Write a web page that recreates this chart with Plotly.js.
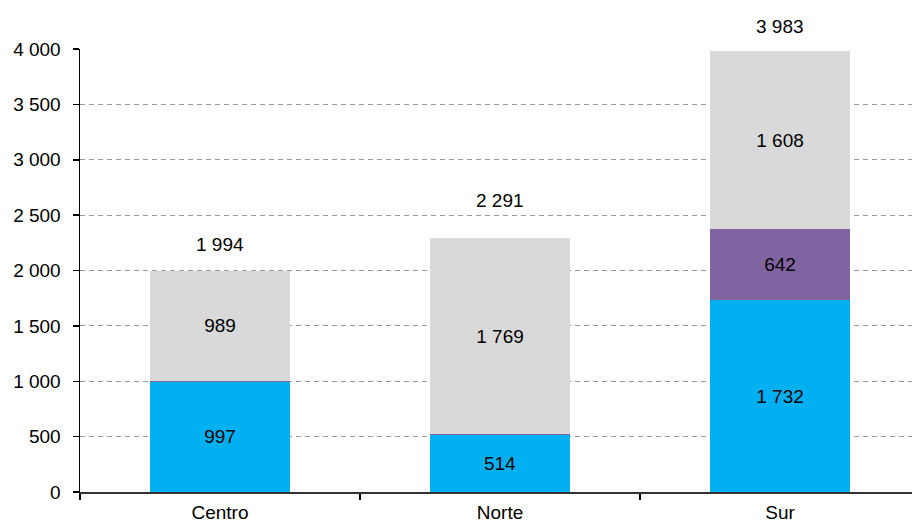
<!DOCTYPE html>
<html>
<head>
<meta charset="utf-8">
<script src="https://cdn.plot.ly/plotly-3.0.1.min.js"></script>
<style>html,body{margin:0;padding:0;background:#fff;}#chart{width:912px;height:524px;}</style>
</head>
<body>
<div id="chart"></div>
<script>
var categories = ["Centro", "Norte", "Sur"];
var blueValues = [997, 514, 1732];
var purpleValues = [8, 8, 642];
var grayValues = [989, 1769, 1608];
var totals = [1994, 2291, 3983];
var totalLabelShift = [27, 38, 24];
var labelMin = 100;

function fmt(v) {
  return String(v).replace(/\B(?=(\d{3})+(?!\d))/g, " ");
}
function labels(arr) {
  return arr.map(function (v) { return v >= labelMin ? fmt(v) : ""; });
}

var FONT = "Liberation Sans, Arial, sans-serif";

function seriesTrace(values, color) {
  return {
    type: "bar",
    x: categories,
    y: values,
    width: 0.5,
    marker: { color: color, line: { width: 0 } },
    text: labels(values),
    texttemplate: "%{text}",
    textposition: "inside",
    insidetextanchor: "middle",
    constraintext: "none",
    textfont: { family: FONT, size: 19, color: "#000" },
    hoverinfo: "skip",
    showlegend: false
  };
}

var data = [
  seriesTrace(blueValues, "#00B0F0"),
  seriesTrace(purpleValues, "#8064A2"),
  seriesTrace(grayValues, "#D9D9D9")
];

var annotations = categories.map(function (c, i) {
  return {
    x: c, y: totals[i], xref: "x", yref: "y",
    text: fmt(totals[i]), showarrow: false,
    yshift: totalLabelShift[i],
    font: { family: FONT, size: 19, color: "#000" }
  };
});

var layout = {
  width: 912, height: 524,
  margin: { l: 80, r: 0, t: 49, b: 32, pad: 0 },
  barmode: "stack",
  separators: ", ",
  paper_bgcolor: "#fff",
  plot_bgcolor: "#fff",
  font: { family: FONT, size: 19, color: "#000" },
  xaxis: {
    type: "category",
    range: [-0.5, -0.5 + 832 / 280],
    showline: true, linecolor: "#333", linewidth: 1.5,
    ticks: "outside", tickson: "boundaries", ticklen: 6, tickcolor: "#000", tickwidth: 1.5,
    ticklabelstandoff: 3,
    showgrid: false, zeroline: false,
    tickfont: { size: 19 }
  },
  yaxis: {
    range: [0, 4000],
    dtick: 500, tick0: 0,
    tickformat: ",d", separatethousands: true,
    showline: true, linecolor: "#000", linewidth: 1.5,
    ticks: "outside", ticklen: 6, tickcolor: "#000", tickwidth: 1.5,
    ticklabelstandoff: 8,
    showgrid: true, gridcolor: "#9a9a9a", gridwidth: 1, griddash: "5px,4px",
    zeroline: false,
    tickfont: { size: 19 }
  },
  annotations: annotations
};

Plotly.newPlot("chart", data, layout, { displayModeBar: false, staticPlot: true });
</script>
</body>
</html>
